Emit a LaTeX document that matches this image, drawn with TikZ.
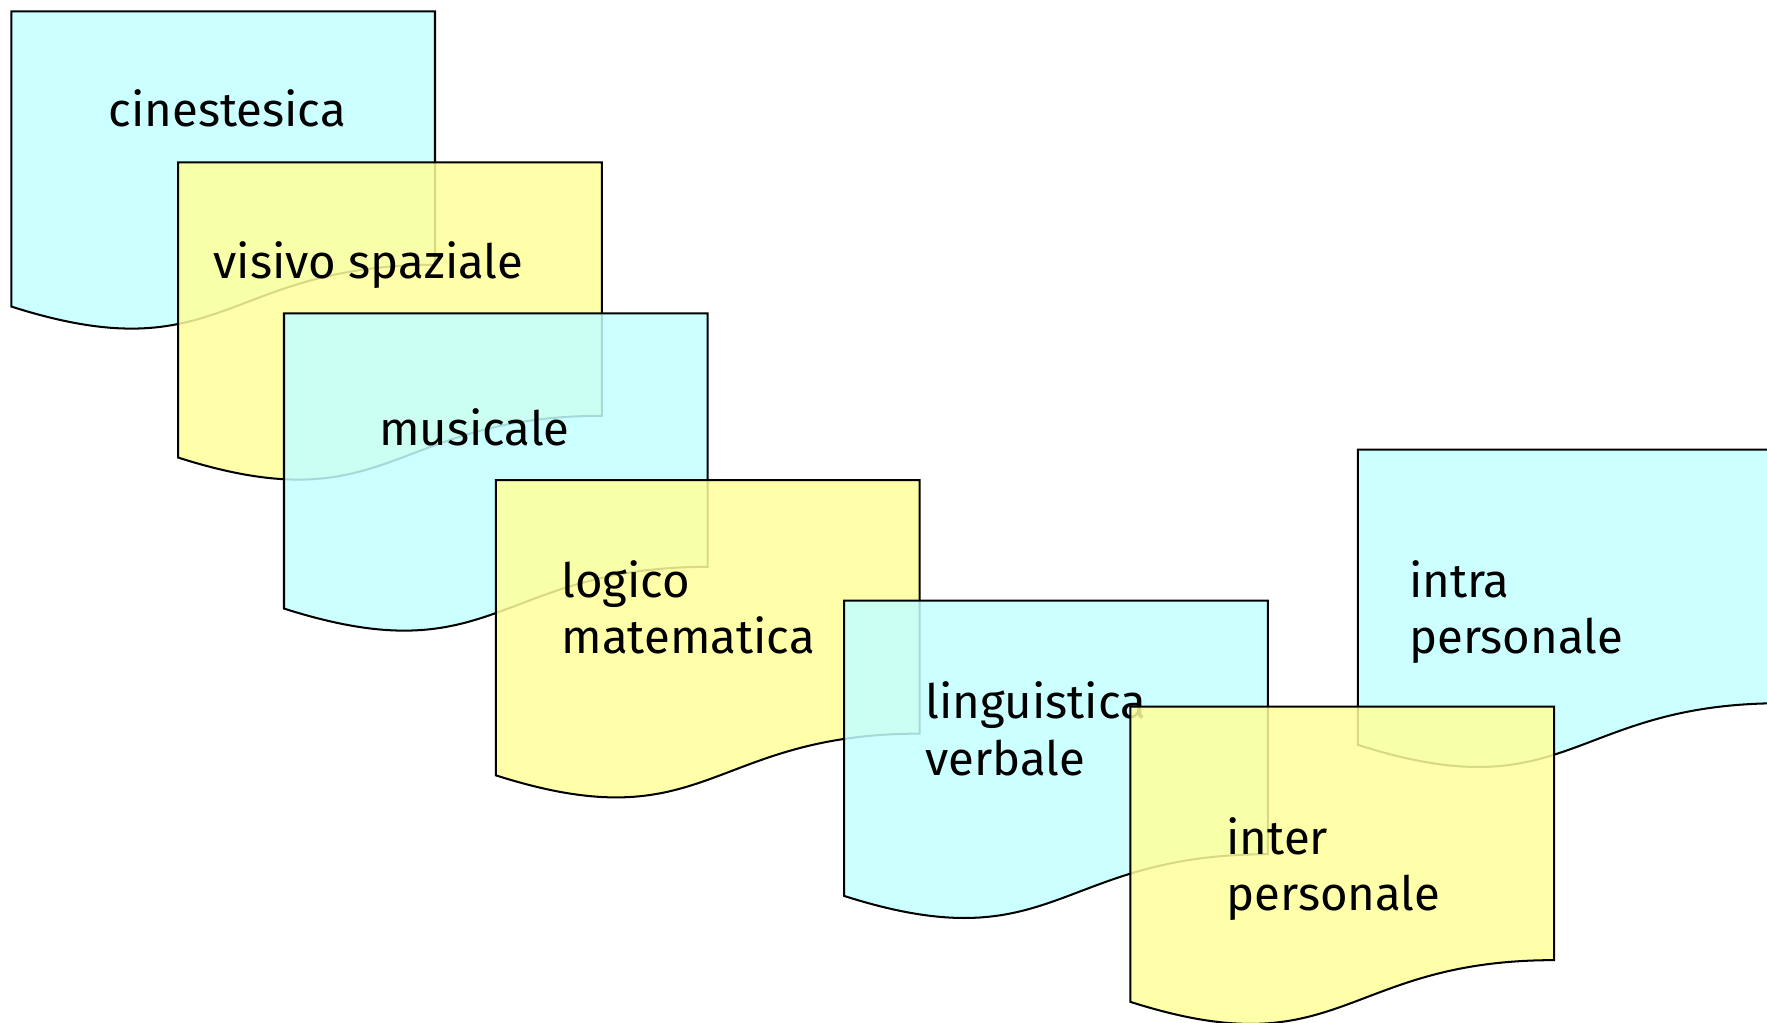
\documentclass[tikz,border=0pt]{standalone}
\usepackage{fontspec}
\setmainfont{Fira Sans}
\definecolor{sheetcyan}{RGB}{195,255,255}
\definecolor{sheetyellow}{RGB}{255,255,155}
\tikzset{
  sheet/.style={draw=black, line width=0.9pt, fill opacity=0.85, line join=miter},
  lbl/.style={anchor=base west, inner sep=0pt, font=\fontsize{21}{25}\selectfont},
}
% document sheet with a wavy lower edge: #1 left, #2 top, #3 fill colour
\newcommand\docsheet[3]{%
  \path[sheet, fill=#3] (#1,#2) -- ({#1+376},#2) -- ({#1+376},{#2+225})
    .. controls ({#1+188},{#2+225}) and ({#1+188},{#2+322}) .. ({#1},{#2+262})
    -- cycle;}
\begin{document}
\begin{tikzpicture}[x=0.5pt, y=-0.5pt]
  \useasboundingbox (0,0) rectangle (1568,907);
  \clip (0,0) rectangle (1568,907);

  \docsheet{10}{10}{sheetcyan}
  \node[lbl] (cin) at (96,112) {cinestesica};

  \docsheet{158}{144}{sheetyellow}
  \node[lbl] (vis) at (189,247) {visivo spaziale};

  \docsheet{252}{278}{sheetcyan}
  \node[lbl] (mus) at (336,395) {musicale};

  \docsheet{440}{426}{sheetyellow}
  \node[lbl] (log1) at (498,530) {logico};
  \node[lbl] (log2) at (498,580) {matematica};

  \docsheet{749}{533}{sheetcyan}
  \node[lbl] (lin1) at (821,638) {linguistica};
  \node[lbl] (lin2) at (821,688) {verbale};

  \docsheet{1205}{399}{sheetcyan}
  \node[lbl] (intra1) at (1250,530) {intra};
  \node[lbl] (intra2) at (1250,580) {personale};

  \docsheet{1003}{627}{sheetyellow}
  \node[lbl] (inter1) at (1088,758) {inter};
  \node[lbl] (inter2) at (1088,808) {personale};
\end{tikzpicture}
\end{document}
